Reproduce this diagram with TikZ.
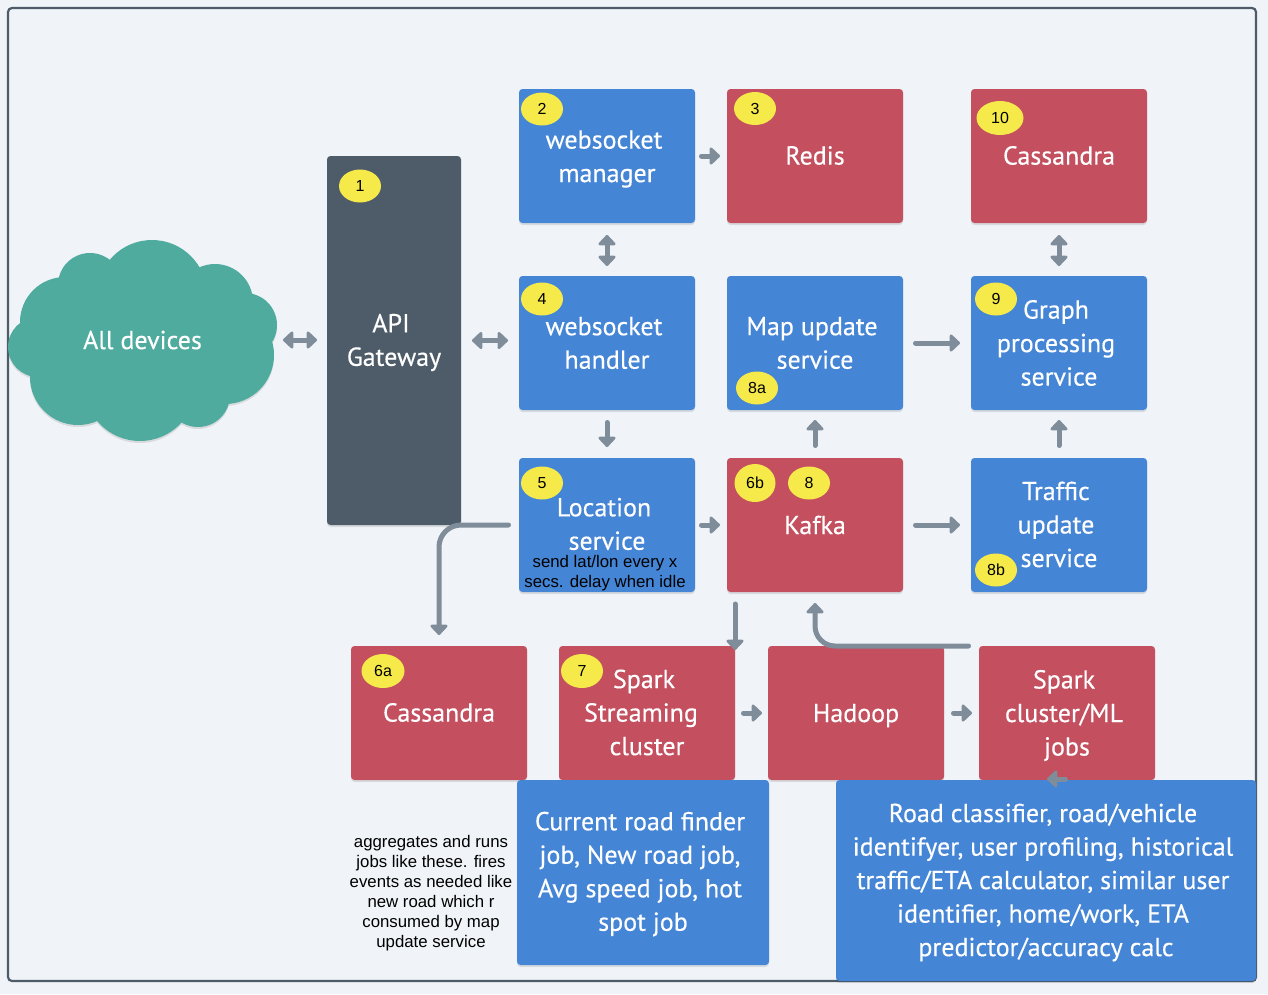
\documentclass[tikz,border=0pt]{standalone}
\usepackage{fontspec}
\setmainfont{PT Sans}
\newfontfamily\boxface[FakeBold=0.35]{PT Sans}
\newfontfamily\noteface{Liberation Sans}
\usetikzlibrary{arrows.meta,shadows,calc,shapes.geometric}
\definecolor{pagebg}{HTML}{F0F4F8}
\definecolor{framec}{HTML}{4E5B68}
\definecolor{blueb}{HTML}{4585D5}
\definecolor{redb}{HTML}{C34F5F}
\definecolor{darkb}{HTML}{4E5B68}
\definecolor{tealb}{HTML}{50AB9F}
\definecolor{arrowc}{HTML}{7F8C9A}
\definecolor{badgec}{HTML}{F5EA4A}
\tikzset{
  softshadow/.style={drop shadow={shadow xshift=0pt,shadow yshift=-2pt,opacity=.1,fill=black}},
  box/.style={rectangle,rounded corners=3.5pt,inner sep=0pt,outer sep=0pt,
     minimum width=176pt,minimum height=134pt,softshadow},
  bluebox/.style={box,fill=blueb},
  redbox/.style={box,fill=redb},
  darkbox/.style={box,fill=darkb},
  boxtext/.style={text=white,align=center,inner sep=0pt,outer sep=0pt,
     font=\boxface\fontsize{26}{33.5}\selectfont},
  badge/.style={ellipse,fill=badgec,inner sep=0pt,outer sep=0pt,text=black,
     font=\noteface\fontsize{16}{18}\selectfont,minimum width=42pt,minimum height=33pt},
  note/.style={text=black,align=center,inner sep=0pt,font=\noteface\fontsize{16.8}{19.9}\selectfont},
  headtip/.tip={Triangle[width=20pt,length=11pt,round]},
  arr/.style={draw=arrowc,line width=5pt,line cap=round,-headtip},
  darr/.style={draw=arrowc,line width=5pt,line cap=round,headtip-headtip},
  gaps/.style 2 args={shorten <=#1pt,shorten >=#2pt},
}
% text of a box: name, x offset, y offset, lines
\newcommand\boxlabel[4]{\node[boxtext] (#1-text) at ($(#1.center)+(#2,#3)$) {#4};}
\newcommand\lft{\rule{6pt}{0pt}}
\newcommand\lftb{\rule{12pt}{0pt}}
\begin{document}
\begin{tikzpicture}[x=1pt,y=-1pt]
\useasboundingbox (0,0) rectangle (1268,994);
\fill[pagebg] (0,0) rectangle (1268,994);
\draw[framec,line width=2.2pt,fill=pagebg,rounded corners=4pt] (8,8) rectangle (1256,981);

% cloud
\fill[tealb,softshadow] (152,295) circle (55) (90,285) circle (32) (65,322) circle (45)
  (38,347) circle (30) (215,302) circle (38) (245,325) circle (32) (225,355) circle (49)
  (198,395) circle (32) (140,385) circle (56) (78,377) circle (48) (150,340) circle (80);
\node[inner sep=0pt,outer sep=0pt,minimum width=269pt,minimum height=200pt] (cloud) at (142.5,340) {};
\boxlabel{cloud}{0}{0}{All devices}

% boxes
\node[darkbox,minimum width=134pt,minimum height=369pt] (api) at (394,340.5) {};
\node[bluebox] (wsm) at (607,156) {};
\node[redbox] (redis) at (815,156) {};
\node[redbox] (casst) at (1059,156) {};
\node[bluebox] (wsh) at (607,343) {};
\node[bluebox] (map) at (815,343) {};
\node[bluebox] (graph) at (1059,343) {};
\node[bluebox] (loc) at (607,525) {};
\node[redbox] (kafka) at (815,525) {};
\node[bluebox] (traffic) at (1059,525) {};
\node[redbox] (cassb) at (439,713) {};
\node[redbox] (spark) at (647,713) {};
\node[redbox] (hadoop) at (856,713) {};
\node[redbox] (sparkml) at (1067,713) {};
\node[bluebox,minimum width=252pt,minimum height=185pt] (current) at (643,872.5) {};
\node[bluebox,minimum width=420pt,minimum height=201pt] (road) at (1046,880.5) {};

\boxlabel{api}{0}{2}{API\lft\\Gateway}
\boxlabel{wsm}{0}{3}{websocket\lft\\manager}
\boxlabel{redis}{0}{-0.5}{Redis}
\boxlabel{casst}{0}{-0.5}{Cassandra}
\boxlabel{wsh}{0}{0}{websocket\lft\\handler}
\boxlabel{map}{0}{0}{Map update\lft\\service}
\boxlabel{graph}{0}{0}{Graph\lft\\processing\lft\\service}
\boxlabel{loc}{0}{-1}{Location\lft\\service}
\boxlabel{kafka}{0}{0}{Kafka}
\boxlabel{traffic}{0}{-0.5}{Traffic\lft\\update\lft\\service}
\boxlabel{cassb}{0}{-0.5}{Cassandra}
\boxlabel{spark}{0}{-0.5}{Spark\lft\\Streaming\lftb\\cluster}
\boxlabel{hadoop}{0}{2.5}{Hadoop}
\boxlabel{sparkml}{0}{2.5}{Spark\lft\\cluster/ML\lft\\jobs}
\boxlabel{current}{0}{1.5}{Current road finder\lft\\job, New road job,\lft\\Avg speed job, hot\lft\\spot job}
\boxlabel{road}{0}{2}{Road classifier, road/vehicle\lft\\identifyer, user profiling, historical\lft\\traffic/ETA calculator, similar user\lft\\identifier, home/work, ETA\lft\\predictor/accuracy calc}

% notes
\node[note] (locnote) at (605,573) {send lat/lon every x\\secs. delay when idle};
\node[note] (jobnote) at (431,893) {aggregates and runs\\jobs like these. fires\\events as needed like\\new road which r\\consumed by map\\update service};

% connectors
\draw[darr,gaps={6}{10}] (cloud.east) -- (api.west |- cloud.east);
\draw[darr,gaps={11}{11}] (api.east) -- (api.east -| wsh.west);
\draw[darr,gaps={12}{10},xshift=-0.5pt] (wsm.south) -- (wsh.north);
\draw[darr,gaps={12}{10}] (casst.south) -- (graph.north);
\draw[arr,gaps={6.5}{7}] (wsm.east) -- (redis.west);
\draw[arr,gaps={12.5}{11},xshift=-0.5pt] (wsh.south) -- (loc.north);
\draw[arr,gaps={12.5}{11}] (map.east) -- (graph.west);
\draw[arr,gaps={12.5}{10}] (kafka.north) -- (map.south);
\draw[arr,gaps={6.5}{7}] (loc.east) -- (kafka.west);
\draw[arr,gaps={12.5}{11}] (kafka.east) -- (traffic.west);
\draw[arr,gaps={12.5}{10}] (traffic.north) -- (graph.south);
\draw[arr,gaps={10.5}{11},rounded corners=22pt] (loc.west) -| (cassb.north);
\draw[arr,gaps={12}{-4}] (spark.north east |- kafka.south) -- (spark.north east);
\draw[arr,gaps={10.5}{11},rounded corners=20pt] (sparkml.north west) -| (kafka.south);
\draw[arr,gaps={8.5}{6}] (spark.east) -- (hadoop.west);
\draw[arr,gaps={9.5}{7}] (hadoop.east) -- (sparkml.west);
\coordinate (mlarrow) at ($(sparkml.south)+(-20,-1)$);
\draw[arr,gaps={2.5}{0}] ($(sparkml.south)+(1,-1)$) -- (mlarrow);

% badges
\node[badge] (b1) at (360,186) {1};
\node[badge] (b2) at (542,109) {2};
\node[badge] (b3) at (755,108.5) {3};
\node[badge,minimum width=47pt,minimum height=34pt] (b10) at (1000,118) {10};
\node[badge] (b4) at (542,299) {4};
\node[badge] (b8a) at (757,388) {8a};
\node[badge] (b9) at (996,299) {9};
\node[badge] (b5) at (542,483) {5};
\node[badge,minimum width=41pt,minimum height=38pt] (b6b) at (755,483) {6b};
\node[badge] (b8) at (809,483) {8};
\node[badge] (b8b) at (996,570) {8b};
\node[badge,minimum height=34pt,minimum width=43pt] (b6a) at (383,671) {6a};
\node[badge,minimum height=34pt] (b7) at (582,671) {7};
\end{tikzpicture}
\end{document}
